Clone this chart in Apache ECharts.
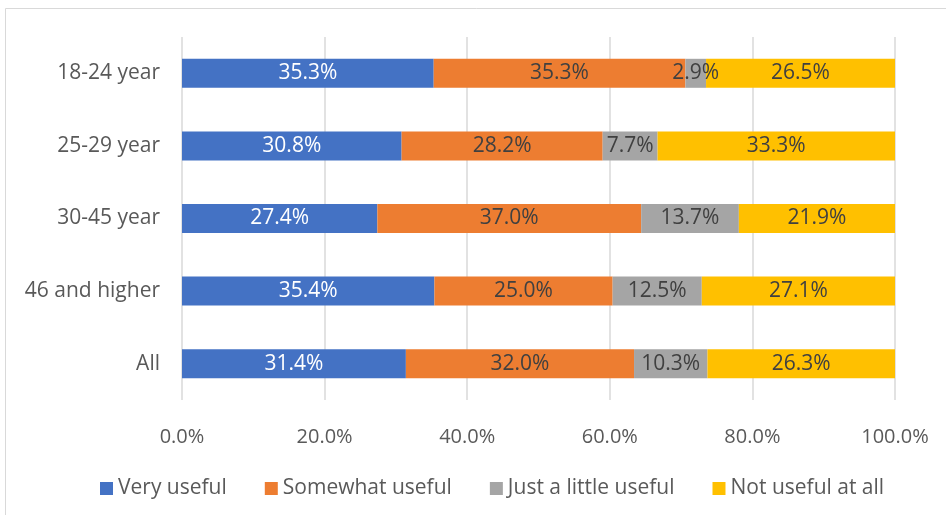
<!DOCTYPE html>
<html>
  <head>
    <title></title>
    <meta charset="UTF-8" />
    <script src="https://cdn.jsdelivr.net/npm/echarts@6/dist/echarts.min.js"></script>
    <style>
      body { margin: 0; background: #fff; }
    </style>
  </head>
  <body>
    <div id="main"></div>
    <script>
      const width = 946;
      const height = 515;
      const main = document.getElementById('main');
      main.style.width = `${width}px`;
      main.style.height = `${height}px`;

      // top to bottom
      const categories = ['18-24 year', '25-29 year', '30-45 year', '46 and higher', 'All'];
      const veryUseful = [35.3, 30.8, 27.4, 35.4, 31.4];
      const somewhatUseful = [35.3, 28.2, 37.0, 25.0, 32.0];
      const littleUseful = [2.9, 7.7, 13.7, 12.5, 10.3];
      const notUseful = [26.5, 33.3, 21.9, 27.1, 26.3];
      const xTicks = [0, 20, 40, 60, 80, 100];

      const font = '"Open Sans", sans-serif';
      const colors = ['#4472C4', '#ED7D31', '#A5A5A5', '#FFC000'];

      function makeSeries(name, data, color, labelColor) {
        return {
          name,
          type: 'bar',
          stack: 'total',
          data,
          barWidth: 29,
          itemStyle: { color },
          label: {
            show: true,
            position: 'inside',
            color: labelColor,
            fontFamily: font,
            fontSize: 21,
            formatter: (p) => p.value.toFixed(1) + '%',
          },
        };
      }

      const myChart = echarts.init(main);
      const option = {
        animation: false,
        textStyle: { fontFamily: font },
        graphic: [
          {
            type: 'rect',
            shape: { x: 5.5, y: 8.5, width: 1000, height: 600 },
            style: { fill: 'none', stroke: '#d9d9d9', lineWidth: 1 },
            silent: true,
          },
        ],
        grid: { left: 182, right: 51, top: 37, bottom: 115 },
        legend: {
          left: 95,
          top: 473,
          itemWidth: 13,
          itemHeight: 13,
          itemGap: 38,
          icon: 'rect',
          textStyle: { color: '#595959', fontSize: 21, fontFamily: font },
        },
        xAxis: {
          type: 'value',
          min: xTicks[0],
          max: xTicks[xTicks.length - 1],
          interval: 20,
          axisLine: { show: false },
          axisTick: { show: false },
          splitLine: { lineStyle: { color: '#d9d9d9', width: 1.5 } },
          axisLabel: {
            color: '#595959',
            fontSize: 20,
            fontFamily: font,
            margin: 27,
            formatter: (v) => v.toFixed(1) + '%',
          },
        },
        yAxis: {
          type: 'category',
          inverse: true,
          data: categories,
          axisLine: { show: false },
          axisTick: { show: false },
          axisLabel: { color: '#595959', fontSize: 21, fontFamily: font, margin: 22 },
        },
        series: [
          makeSeries('Very useful', veryUseful, colors[0], '#fff'),
          makeSeries('Somewhat useful', somewhatUseful, colors[1], '#404040'),
          makeSeries('Just a little useful', littleUseful, colors[2], '#404040'),
          makeSeries('Not useful at all', notUseful, colors[3], '#404040'),
        ],
      };
      myChart.setOption(option);
    </script>
  </body>
</html>
